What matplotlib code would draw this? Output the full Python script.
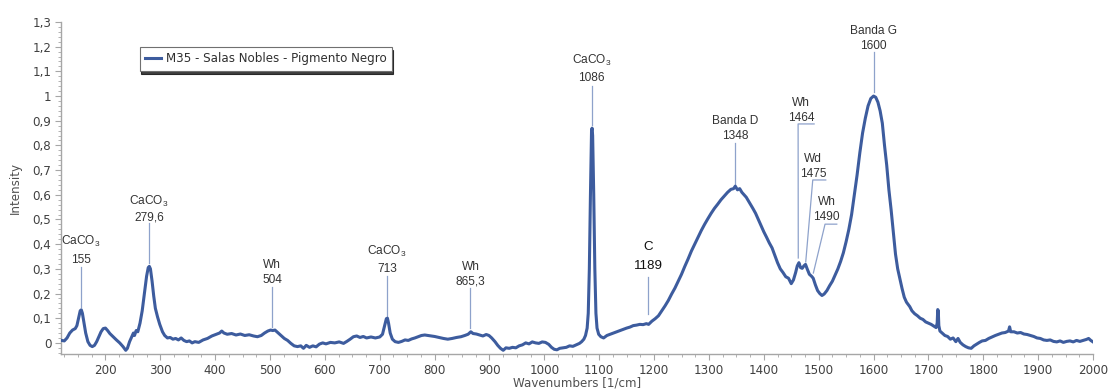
import numpy as np
import matplotlib
matplotlib.use("Agg")
import matplotlib.pyplot as plt
from matplotlib.ticker import MultipleLocator, FuncFormatter

# ---------------- data ----------------
wavenumber = [
    120, 125, 130, 135, 140, 145, 148, 151, 154, 156, 158, 161, 164, 168, 172, 176, 180, 184, 188, 192,
    196, 200, 204, 208, 214, 220, 226, 232, 237, 240, 244, 248, 251, 253, 256, 259, 263, 267, 271, 275,
    278, 280, 282, 285, 288, 291, 295, 299, 304, 308, 313, 318, 323, 328, 333, 338, 343, 348, 353, 358,
    363, 370, 378, 386, 394, 402, 408, 412, 416, 422, 430, 438, 446, 454, 462, 470, 477, 484, 490, 496,
    501, 505, 509, 514, 520, 526, 532, 538, 544, 550, 556, 561, 566, 572, 578, 584, 590, 596, 602, 610,
    618, 626, 634, 640, 646, 652, 658, 664, 670, 676, 684, 692, 700, 705, 709, 712, 714, 716, 719, 723,
    728, 734, 740, 746, 752, 758, 764, 770, 776, 782, 788, 794, 800, 808, 816, 824, 832, 840, 848, 855,
    861, 866, 870, 876, 882, 888, 894, 899, 904, 910, 915, 920, 925, 930, 936, 942, 948, 954, 960, 966,
    972, 978, 984, 990, 996, 1002, 1008, 1013, 1018, 1023, 1028, 1034, 1040, 1046, 1052, 1058, 1064, 1068, 1072, 1075,
    1078, 1080, 1082, 1084, 1086, 1087, 1088, 1090, 1092, 1094, 1096, 1099, 1103, 1108, 1114, 1120, 1126, 1132, 1138, 1144,
    1150, 1156, 1162, 1168, 1174, 1180, 1186, 1190, 1196, 1202, 1208, 1214, 1220, 1226, 1232, 1238, 1244, 1250, 1256, 1262,
    1268, 1274, 1280, 1286, 1292, 1298, 1304, 1310, 1316, 1322, 1328, 1334, 1340, 1345, 1348, 1352, 1356, 1360, 1364, 1368,
    1372, 1376, 1380, 1385, 1390, 1395, 1400, 1405, 1410, 1415, 1420, 1425, 1430, 1435, 1440, 1445, 1450, 1454, 1458, 1461,
    1464, 1467, 1470, 1473, 1476, 1479, 1483, 1487, 1490, 1494, 1498, 1502, 1506, 1510, 1515, 1520, 1525, 1530, 1535, 1540,
    1545, 1550, 1555, 1560, 1565, 1570, 1575, 1580, 1585, 1590, 1595, 1600, 1604, 1608, 1612, 1616, 1620, 1624, 1628, 1632,
    1636, 1640, 1644, 1648, 1652, 1656, 1660, 1666, 1670, 1675, 1680, 1685, 1690, 1695, 1700, 1705, 1710, 1714, 1716, 1717,
    1718, 1719, 1721, 1725, 1730, 1735, 1740, 1745, 1750, 1754, 1758, 1763, 1768, 1773, 1778, 1783, 1788, 1793, 1798, 1804,
    1810, 1816, 1822, 1828, 1834, 1840, 1846, 1848, 1850, 1856, 1862, 1868, 1874, 1880, 1886, 1892, 1898, 1904, 1910, 1916,
    1922, 1928, 1934, 1940, 1946, 1952, 1958, 1964, 1970, 1976, 1982, 1988, 1992, 1996, 2000,
]
intensity = [
    0.010, 0.008, 0.020, 0.040, 0.052, 0.058, 0.070, 0.100, 0.130, 0.134, 0.120, 0.080, 0.040, 0.005, -0.010, -0.015, -0.010, 0.005, 0.025, 0.045,
    0.058, 0.060, 0.050, 0.038, 0.025, 0.012, 0.000, -0.015, -0.030, -0.022, 0.005, 0.025, 0.040, 0.030, 0.050, 0.045, 0.080, 0.130, 0.200, 0.270,
    0.305, 0.310, 0.300, 0.250, 0.190, 0.140, 0.105, 0.075, 0.045, 0.030, 0.020, 0.022, 0.015, 0.018, 0.012, 0.020, 0.010, 0.005, 0.008, 0.000,
    0.005, 0.002, 0.012, 0.018, 0.028, 0.035, 0.040, 0.048, 0.040, 0.035, 0.038, 0.032, 0.036, 0.030, 0.033, 0.028, 0.025, 0.030, 0.040, 0.048,
    0.052, 0.050, 0.052, 0.042, 0.030, 0.018, 0.010, -0.002, -0.012, -0.015, -0.012, -0.022, -0.010, -0.018, -0.012, -0.016, -0.005, 0.000, -0.004, 0.002,
    0.000, 0.004, -0.002, 0.006, 0.015, 0.025, 0.028, 0.022, 0.026, 0.020, 0.024, 0.020, 0.024, 0.035, 0.070, 0.098, 0.100, 0.080, 0.040, 0.015,
    0.005, 0.002, 0.006, 0.012, 0.010, 0.016, 0.020, 0.025, 0.030, 0.032, 0.030, 0.028, 0.026, 0.022, 0.018, 0.015, 0.018, 0.022, 0.025, 0.030,
    0.035, 0.045, 0.038, 0.036, 0.032, 0.028, 0.034, 0.030, 0.020, 0.005, -0.010, -0.022, -0.030, -0.020, -0.022, -0.018, -0.020, -0.012, -0.008, 0.000,
    -0.004, 0.004, 0.000, -0.002, 0.004, 0.002, -0.006, -0.018, -0.026, -0.028, -0.022, -0.020, -0.018, -0.012, -0.014, -0.008, -0.002, 0.005, 0.015, 0.030,
    0.060, 0.120, 0.300, 0.600, 0.860, 0.870, 0.840, 0.600, 0.300, 0.120, 0.060, 0.035, 0.025, 0.020, 0.030, 0.035, 0.040, 0.045, 0.050, 0.055,
    0.060, 0.064, 0.070, 0.072, 0.075, 0.074, 0.078, 0.075, 0.088, 0.098, 0.110, 0.130, 0.150, 0.172, 0.198, 0.222, 0.250, 0.278, 0.310, 0.340,
    0.372, 0.400, 0.428, 0.455, 0.480, 0.503, 0.525, 0.545, 0.562, 0.580, 0.595, 0.610, 0.622, 0.625, 0.635, 0.620, 0.625, 0.610, 0.600, 0.590,
    0.575, 0.560, 0.545, 0.525, 0.500, 0.475, 0.450, 0.428, 0.405, 0.385, 0.355, 0.325, 0.300, 0.285, 0.268, 0.262, 0.240, 0.255, 0.285, 0.312,
    0.325, 0.305, 0.302, 0.312, 0.318, 0.300, 0.278, 0.270, 0.262, 0.235, 0.212, 0.200, 0.192, 0.198, 0.212, 0.232, 0.250, 0.275, 0.300, 0.330,
    0.365, 0.410, 0.460, 0.520, 0.600, 0.680, 0.770, 0.850, 0.910, 0.960, 0.990, 1.000, 0.995, 0.975, 0.940, 0.890, 0.800, 0.720, 0.620, 0.540,
    0.450, 0.360, 0.300, 0.260, 0.220, 0.185, 0.165, 0.147, 0.130, 0.118, 0.110, 0.100, 0.095, 0.085, 0.080, 0.075, 0.068, 0.062, 0.080, 0.135,
    0.130, 0.070, 0.048, 0.040, 0.030, 0.026, 0.015, 0.020, 0.005, 0.018, 0.002, -0.008, -0.015, -0.020, -0.022, -0.012, -0.005, 0.002, 0.008, 0.010,
    0.018, 0.024, 0.030, 0.035, 0.040, 0.042, 0.048, 0.065, 0.045, 0.045, 0.040, 0.042, 0.036, 0.034, 0.030, 0.026, 0.020, 0.018, 0.012, 0.010,
    0.012, 0.006, 0.004, 0.008, 0.002, 0.006, 0.008, 0.004, 0.010, 0.006, 0.010, 0.014, 0.018, 0.010, 0.004,
]
series_name = "M35 - Salas Nobles - Pigmento Negro"

# simple peak labels: name, label text, peak position
peak_names = ["CaCO$_\\mathrm{3}$", "CaCO$_\\mathrm{3}$", "Wh", "CaCO$_\\mathrm{3}$", "Wh",
              "CaCO$_\\mathrm{3}$", "C", "Banda D", "Banda G"]
peak_values = ["155", "279,6", "504", "713", "865,3", "1086", "1189", "1348", "1600"]
peak_pos = [155, 279.6, 504, 713, 865.3, 1086, 1189, 1348, 1600]

# bracket-style labels (crowded region)
side_names = ["Wh", "Wd", "Wh"]
side_values = ["1464", "1475", "1490"]
side_pos = [1464, 1475, 1490]

# ---------------- layout ----------------
# (name y, value y, line top, line bottom) in data units
simple_layout = [
    (0.409, 0.336, 0.308, 0.146),
    (0.571, 0.510, 0.486, 0.324),
    (0.316, 0.255, 0.227, 0.065),
    (0.372, 0.300, 0.271, 0.109),
    (0.308, 0.247, 0.223, 0.061),
    (1.146, 1.073, 1.040, 0.883),
    (0.389, 0.312, 0.267, 0.117),
    (0.899, 0.838, 0.810, 0.640),
    (1.264, 1.204, 1.178, 1.016),
]
# (text x, name y, value y, bracket y, bracket x0, bracket x1, line end x, line end y)
side_layout = [
    (1467.6, 0.972, 0.911, 0.887, 1462.5, 1491.7, 1462.8, 0.344),
    (1489.7, 0.745, 0.684, 0.660, 1489.2, 1512.9, 1476.4, 0.328),
    (1514.7, 0.570, 0.511, 0.481, 1511.6, 1533.0, 1490.3, 0.283),
]

plt.rcParams['mathtext.fontset'] = 'custom'
plt.rcParams['mathtext.rm'] = 'Liberation Sans'
plt.rcParams['mathtext.it'] = 'Liberation Sans:italic'

line_color = '#3D5C9E'
lead_color = '#8EA2CB'
label_color = '#333333'
axis_gray = '#A6A6A6'
tick_text = '#404040'

fig = plt.figure(figsize=(11.1, 3.9), dpi=100)
ax = fig.add_axes([61 / 1110, 36 / 390, 1032 / 1110, 332 / 390])

ax.plot(wavenumber, intensity, color=line_color, lw=2.2, label=series_name,
        solid_joinstyle='round', zorder=3)

ax.set_xlim(119, 2000)
ax.set_ylim(-0.045, 1.3)

for s in ['top', 'right']:
    ax.spines[s].set_visible(False)
for s in ['left', 'bottom']:
    ax.spines[s].set_color(axis_gray)
    ax.spines[s].set_linewidth(1.0)

ax.xaxis.set_major_locator(MultipleLocator(100))
ax.xaxis.set_minor_locator(MultipleLocator(25))
ax.yaxis.set_major_locator(MultipleLocator(0.1))
ax.yaxis.set_minor_locator(MultipleLocator(0.02))


def fmt_y(v, _):
    s = f"{v:.1f}"
    if s.endswith('.0'):
        s = s[:-2]
    if s == '-0':
        s = '0'
    return s.replace('.', ',')


ax.yaxis.set_major_formatter(FuncFormatter(fmt_y))
ax.xaxis.set_major_formatter(FuncFormatter(lambda v, _: f"{int(round(v))}"))
ax.tick_params(axis='both', which='major', length=4, width=0.8, color=axis_gray,
               labelsize=8.6, labelcolor=tick_text, pad=3)
ax.tick_params(axis='both', which='minor', length=2, width=0.6, color=axis_gray)

ax.set_xlabel("Wavenumbers [1/cm]", fontsize=8.6, color='#505050', va='center')
ax.xaxis.set_label_coords(0.5, -0.087)
ax.set_ylabel("Intensity", fontsize=8.6, color='#505050', va='center')
ax.yaxis.set_label_coords(-0.0446, 0.5)

for name, val, px, lay in zip(peak_names, peak_values, peak_pos, simple_layout):
    ny, vy, lt, lb = lay
    big = name == "C"
    fs = 9.6 if big else 8.6
    col = '#111111' if big else label_color
    ax.text(px, ny, name, ha='center', va='center', fontsize=fs, color=col,
            family='Liberation Sans', zorder=4)
    ax.text(px, vy, val, ha='center', va='center', fontsize=fs, color=col,
            family='Liberation Sans', zorder=4)
    ax.plot([px, px], [lt, lb], color=lead_color, lw=0.9, zorder=2)

for name, val, lay in zip(side_names, side_values, side_layout):
    tx, ny, vy, by, bx0, bx1, ex, ey = lay
    ax.text(tx, ny, name, ha='center', va='center', fontsize=8.6, color=label_color,
            family='Liberation Sans', zorder=4)
    ax.text(tx, vy, val, ha='center', va='center', fontsize=8.6, color=label_color,
            family='Liberation Sans', zorder=4)
    ax.plot([bx1, bx0, ex], [by, by, ey], color=lead_color, lw=0.9, zorder=2)

leg = ax.legend(loc='upper left', bbox_to_anchor=(140 / 1110, 1 - 47 / 390),
                bbox_transform=fig.transFigure, borderaxespad=0, fontsize=8.6,
                frameon=True, fancybox=False,
                shadow={'ox': 1, 'oy': -2.5, 'color': 'black', 'alpha': 0.75},
                handlelength=1.3, handletextpad=0.4, borderpad=0.45)
leg.get_frame().set_edgecolor('#707070')
leg.get_frame().set_linewidth(0.8)
for t in leg.get_texts():
    t.set_color('#303030')

fig.savefig("out.png", dpi=100)
